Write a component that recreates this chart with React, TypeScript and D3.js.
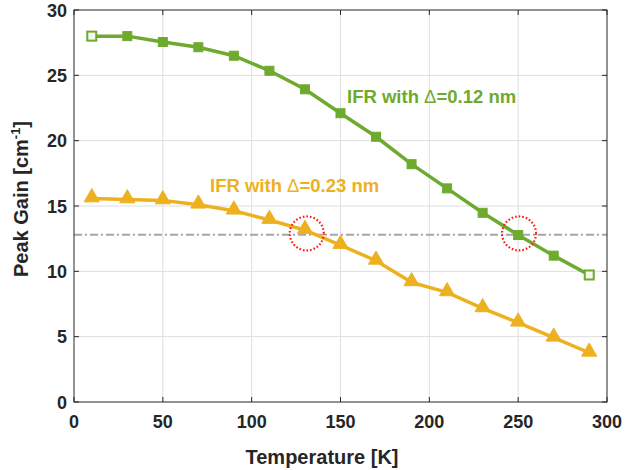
import React from "react";
import * as d3 from "d3";

const temperatures = [10, 30, 50, 70, 90, 110, 130, 150, 170, 190, 210, 230, 250, 270, 290];
const gain012 = [28.0, 28.0, 27.55, 27.15, 26.5, 25.35, 23.93, 22.1, 20.3, 18.2, 16.35, 14.48, 12.78, 11.2, 9.72];
const gain023 = [15.58, 15.5, 15.43, 15.1, 14.64, 13.93, 13.16, 12.01, 10.81, 9.16, 8.39, 7.17, 6.07, 4.92, 3.77];
const thresholdGain = 12.8;
const circledTemps = [131, 250.5];
const circledGains = [12.9, 12.9];
const xTicks = [0, 50, 100, 150, 200, 250, 300];
const yTicks = [0, 5, 10, 15, 20, 25, 30];
const labels = ["IFR with \u0394=0.12 nm", "IFR with \u0394=0.23 nm"];

const GREEN = "#6EAA2E";
const ORANGE = "#EDB120";
const AXIS = "#262626";
const FONT = "'Liberation Sans', Arial, Helvetica, sans-serif";

function Label({ text, x, y, fill }: { text: string; x: number; y: number; fill: string }) {
  const [a, b] = text.split("\u0394");
  return (
    <text x={x} y={y} fontSize={18.5} fontWeight="bold" fill={fill}>
      {a}
      <tspan fontWeight="normal">{"\u0394"}</tspan>
      {b}
    </text>
  );
}

export default function App() {
  const W = 626, H = 470;
  const L = 74, R = 607, T = 10, B = 402;
  const x = d3.scaleLinear().domain([0, 300]).range([L, R]);
  const y = d3.scaleLinear().domain([0, 30]).range([B, T]);
  const line = d3.line<number>().x((_, i) => x(temperatures[i])).y((d) => y(d));
  const tri = d3.symbol().type(d3.symbolTriangle).size(100)();

  return (
    <svg width={W} height={H} style={{ position: "absolute", left: 0, top: 0, background: "#fff" }} fontFamily={FONT}>
      {/* grid */}
      {xTicks.slice(1, -1).map((t) => (
        <line key={"gx" + t} x1={x(t)} x2={x(t)} y1={T} y2={B} stroke="#dedede" strokeWidth={1} />
      ))}
      {yTicks.slice(1, -1).map((t) => (
        <line key={"gy" + t} x1={L} x2={R} y1={y(t)} y2={y(t)} stroke="#dedede" strokeWidth={1} />
      ))}
      {/* threshold dash-dot */}
      <line x1={L} x2={R} y1={y(thresholdGain)} y2={y(thresholdGain)} stroke="#a6a6a6" strokeWidth={2} strokeDasharray="8,3,2,3" />
      {/* orange series */}
      <path d={line(gain023) || ""} fill="none" stroke={ORANGE} strokeWidth={3.5} />
      {gain023.map((v, i) => (
        <path key={"t" + i} d={tri || ""} transform={`translate(${x(temperatures[i])},${y(v) - 1})`} fill={ORANGE} stroke={ORANGE} strokeWidth={1} />
      ))}
      {/* green series */}
      <path d={line(gain012) || ""} fill="none" stroke={GREEN} strokeWidth={3.5} />
      {gain012.map((v, i) => {
        const hollow = i === 0 || i === gain012.length - 1;
        return (
          <rect key={"s" + i} x={x(temperatures[i]) - 4.5} y={y(v) - 4.5} width={9} height={9}
            fill={hollow ? "#f4f9ee" : GREEN} stroke={GREEN} strokeWidth={hollow ? 2 : 1} />
        );
      })}
      {/* red dotted circles */}
      {circledTemps.map((t, i) => (
        <circle key={"c" + i} cx={x(t)} cy={y(circledGains[i])} r={17} fill="none" stroke="#ff1a1a" strokeWidth={2.2} strokeDasharray="1.6,2" />
      ))}
      {/* box */}
      <rect x={L} y={T} width={R - L} height={B - T} fill="none" stroke={AXIS} strokeWidth={1} />
      {xTicks.map((t) => (
        <g key={"xt" + t}>
          <line x1={x(t)} x2={x(t)} y1={B} y2={B - 5} stroke={AXIS} />
          <line x1={x(t)} x2={x(t)} y1={T} y2={T + 5} stroke={AXIS} />
          <text x={x(t)} y={428} textAnchor="middle" fontSize={18} fontWeight="bold" fill={AXIS}>{t}</text>
        </g>
      ))}
      {yTicks.map((t) => (
        <g key={"yt" + t}>
          <line x1={L} x2={L + 5} y1={y(t)} y2={y(t)} stroke={AXIS} />
          <line x1={R} x2={R - 5} y1={y(t)} y2={y(t)} stroke={AXIS} />
          <text x={67} y={y(t) + 6.5} textAnchor="end" fontSize={18} fontWeight="bold" fill={AXIS}>{t}</text>
        </g>
      ))}
      {/* axis labels */}
      <text x={322} y={464} textAnchor="middle" fontSize={20} fontWeight="bold" fill={AXIS}>Temperature [K]</text>
      <text transform={`translate(28,199) rotate(-90)`} textAnchor="middle" fontSize={20} fontWeight="bold" fill={AXIS}>
        Peak Gain [cm<tspan dy={-8} fontSize={13}>-1</tspan><tspan dy={8}>]</tspan>
      </text>
      {/* annotations */}
      <Label text={labels[0]} x={347} y={103} fill={GREEN} />
      <Label text={labels[1]} x={210} y={191.5} fill={ORANGE} />
    </svg>
  );
}
